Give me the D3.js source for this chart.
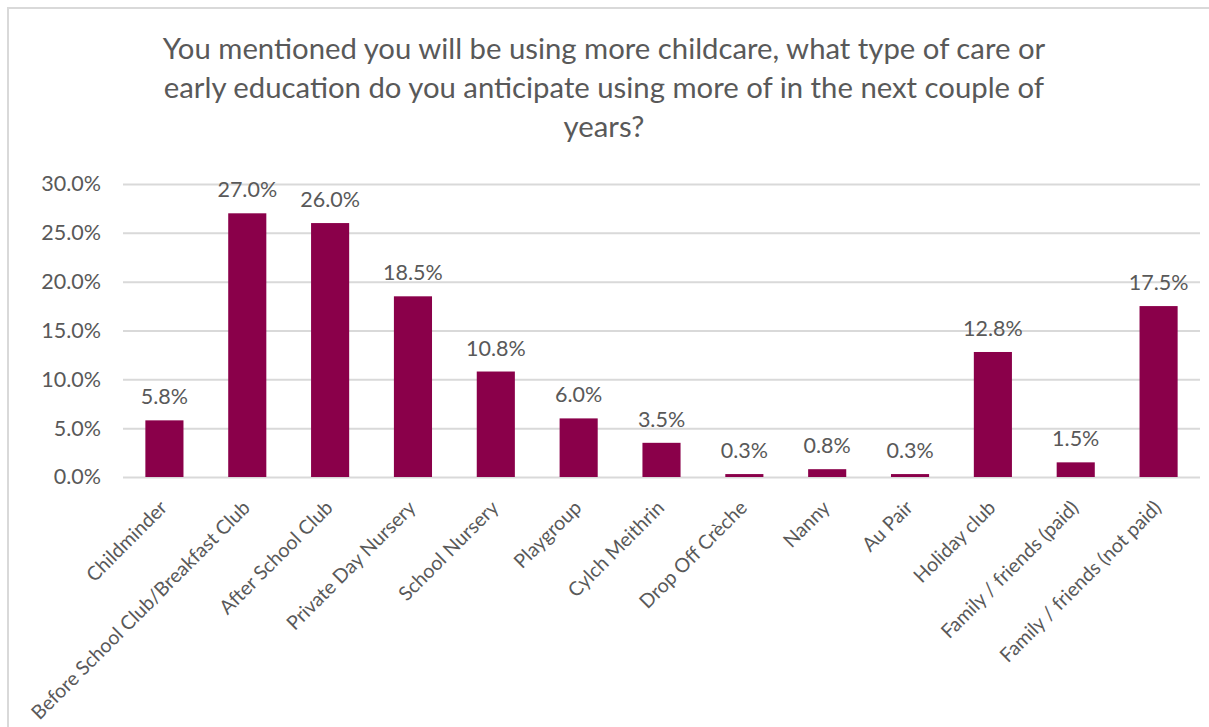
<!DOCTYPE html>
<html>
<head>
<meta charset="utf-8">
<script src="https://cdn.jsdelivr.net/npm/d3@7"></script>
<style>
  html, body { margin: 0; padding: 0; background: #fff; overflow: hidden; }
  svg { display: block; font-family: Lato, "Open Sans", sans-serif; }
</style>
</head>
<body>
<svg id="chart" width="1209" height="727"></svg>
<script>
const categories = [
  "Childminder",
  "Before School Club/Breakfast Club",
  "After School Club",
  "Private Day Nursery",
  "School Nursery",
  "Playgroup",
  "Cylch Meithrin",
  "Drop Off Crèche",
  "Nanny",
  "Au Pair",
  "Holiday club",
  "Family / friends (paid)",
  "Family / friends (not paid)"
];
const values = [5.8, 27.0, 26.0, 18.5, 10.8, 6.0, 3.5, 0.3, 0.8, 0.3, 12.8, 1.5, 17.5];
const yTicks = [0, 5, 10, 15, 20, 25, 30];
const titleLines = [
  "You mentioned you will be using more childcare, what type of care or",
  "early education do you anticipate using more of in the next couple of",
  "years?"
];

const W = 1209, H = 727;
const margin = { left: 123, right: 9, top: 184, bottom: 250 };
const svg = d3.select("#chart");
const textColor = "#595959";
const barColor = "#8a004a";
const gridColor = "#d9d9d9";

// outer border
svg.append("rect")
  .attr("x", 8).attr("y", 8)
  .attr("width", W).attr("height", H)
  .attr("fill", "none").attr("stroke", gridColor).attr("stroke-width", 2);

// title
const title = svg.append("text")
  .attr("text-anchor", "middle")
  .attr("fill", textColor)
  .attr("font-size", 29.3);
titleLines.forEach((line, i) => {
  title.append("tspan")
    .attr("x", 604)
    .attr("y", 59 + i * 39)
    .text(line);
});

const x = d3.scaleBand()
  .domain(categories)
  .range([margin.left, W - margin.right])
  .paddingInner(0.54)
  .paddingOuter(0.27);

const y = d3.scaleLinear()
  .domain([0, 30])
  .range([477, 184]);

// gridlines
const yAxis = d3.axisLeft(y)
  .tickValues(yTicks)
  .tickSize(-(W - margin.right - margin.left))
  .tickPadding(22)
  .tickFormat(d => d.toFixed(1) + "%");

const gAxis = svg.append("g")
  .attr("transform", `translate(${margin.left},0)`)
  .call(yAxis);
gAxis.select(".domain").remove();
gAxis.selectAll(".tick line").attr("stroke", gridColor).attr("stroke-width", 2);
gAxis.selectAll(".tick text")
  .attr("fill", textColor)
  .attr("font-size", 21.5)
  .attr("font-family", "Lato, 'Open Sans', sans-serif");

// bars
svg.append("g").selectAll("rect")
  .data(values)
  .join("rect")
  .attr("x", (d, i) => x(categories[i]))
  .attr("width", x.bandwidth())
  .attr("y", d => y(d))
  .attr("height", d => y(0) - y(d))
  .attr("fill", barColor);

// data labels
svg.append("g").selectAll("text")
  .data(values)
  .join("text")
  .attr("x", (d, i) => x(categories[i]) + x.bandwidth() / 2)
  .attr("y", d => y(d) - 16)
  .attr("text-anchor", "middle")
  .attr("fill", textColor)
  .attr("font-size", 21.5)
  .text(d => d.toFixed(1) + "%");

// category labels, rotated
const xAxis = d3.axisBottom(x).tickSize(0).tickPadding(0);
const gx = svg.append("g")
  .attr("transform", `translate(0,${y(0)})`)
  .call(xAxis);
gx.select(".domain").remove();
gx.selectAll(".tick text")
  .attr("fill", textColor)
  .attr("font-size", 19.6)
  .attr("font-family", "Lato, 'Open Sans', sans-serif")
  .attr("text-anchor", "end")
  .attr("dy", null)
  .attr("transform", "translate(4,32) rotate(-45)");
</script>
</body>
</html>
